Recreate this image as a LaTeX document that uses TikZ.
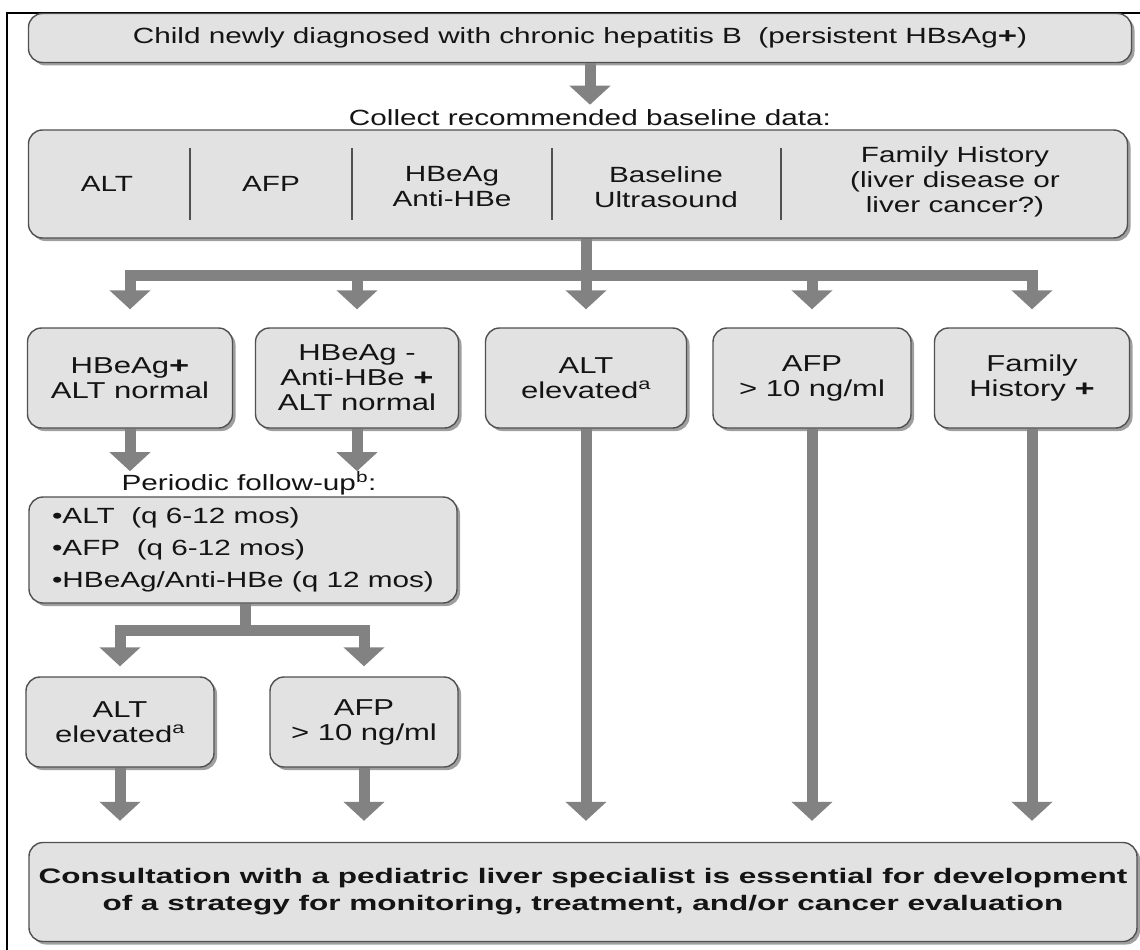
\documentclass[tikz,border=0pt]{standalone}
\usepackage{fontspec}
\setmainfont{Liberation Sans}[FakeStretch=1.35, BoldFeatures={FakeStretch=1.5}]
\usetikzlibrary{arrows.meta,shadows}

\definecolor{boxfill}{HTML}{E2E2E2}
\definecolor{boxline}{HTML}{505050}
\definecolor{flowgray}{HTML}{828282}

\begin{document}
\begin{tikzpicture}[x=1pt, y=-1pt,
  box/.style={
    draw=boxline, fill=boxfill, rounded corners=14pt, line width=1.4pt,
    minimum width=#1, minimum height=100pt, inner sep=0pt,
    align=center, text=black!92, font=\fontsize{23}{25}\selectfont,
    drop shadow={shadow xshift=3pt, shadow yshift=-3pt, fill=black!75}
  },
  caption/.style={
    inner sep=0pt, align=center, text=black!92, font=\fontsize{22}{25}\selectfont
  },
  sep/.style={draw=boxline, line width=1.5pt},
  bar/.style={draw=flowgray, line width=11pt},
  flow/.style={bar, -{Triangle[width=40pt,length=19pt]}}
]
\useasboundingbox (0,0) rectangle (1140,950);

% frame
\draw[line width=2pt] (7,950) -- (7,13) -- (1140,13);

% Diagnosis
\node[box=1103pt, minimum height=49pt, font=\fontsize{22}{25}\selectfont] (diag) at (580,38) {Child newly diagnosed with chronic hepatitis B\ \ (persistent HBsAg\textbf{+})};

% Baseline data
\node[caption] (collect) at (590,118) {Collect recommended baseline data:};
\node[box=1099pt, minimum height=108pt] (base) at (578,184) {};
\node[caption] (balt) at (107,184) {ALT};
\node[caption] (bafp) at (271,184) {AFP};
\node[caption] (bhbe) at (452,187) {HBeAg\\Anti-HBe};
\node[caption] (bus) at (666,187) {Baseline\\Ultrasound};
\node[caption] (bfam) at (955,182) {Family History\\(liver disease or\\liver cancer?)};
\foreach \x in {190,352,552,781}
  \draw[sep] (\x,148) -- (\x,220);

\draw[flow, shorten >=5pt] (diag.south -| collect.north) -- (collect.north);

% First findings
\node[box=205pt] (hbpos) at (130,378) {HBeAg\textbf{+}\\ALT normal};
\node[box=203pt] (hbneg) at (357,378) {HBeAg -\\Anti-HBe \textbf{+}\\ALT normal};
\node[box=201pt] (altc) at (586,378) {ALT\\elevated\textsuperscript{a}};
\node[box=198pt] (afpc) at (812,378) {AFP\\> 10 ng/ml};
\node[box=195pt] (famc) at (1032,378) {Family\\History \textbf{+}};

\coordinate (split) at (586,275);
\draw[bar] (base.south -| split) -- (split);
\foreach \n in {hbpos,hbneg,altc,afpc,famc}
  \draw[flow, shorten >=18pt] (split) -| (\n.north);

% Periodic follow-up
\node[caption] (fulabel) at (249,483) {Periodic follow-up\textsuperscript{b}:};
\node[box=428pt, minimum height=106pt, align=left, font=\fontsize{22}{32}\selectfont] (follow) at (243,550)
  {•ALT\ \ (q 6-12 mos)\\•AFP\ \ (q 6-12 mos)\\•HBeAg/Anti-HBe (q 12 mos)};
\draw[flow] (hbpos.south) -- (hbpos.south |- fulabel.north);
\draw[flow] (hbneg.south) -- (hbneg.south |- fulabel.north);

\node[box=188pt, minimum height=90pt] (altg) at (120,722) {ALT\\elevated\textsuperscript{a}};
\node[box=188pt, minimum height=90pt] (afph) at (364,722) {AFP\\> 10 ng/ml};

\coordinate (split2) at (245,630);
\draw[bar] (follow.south -| split2) -- (split2);
\foreach \n in {altg,afph}
  \draw[flow, shorten >=10pt] (split2) -| (\n.north);

% Consultation
\node[box=1108pt, minimum height=99pt, font=\fontsize{21}{27}\selectfont\bfseries] (consult) at (583,892)
  {Consultation with a pediatric liver specialist is essential for development\\of a strategy for monitoring, treatment, and/or cancer evaluation};
\foreach \n in {altg,afph,altc,afpc,famc}
  \draw[flow, shorten >=21pt] (\n.south) -- (\n.south |- consult.north);

\end{tikzpicture}
\end{document}
